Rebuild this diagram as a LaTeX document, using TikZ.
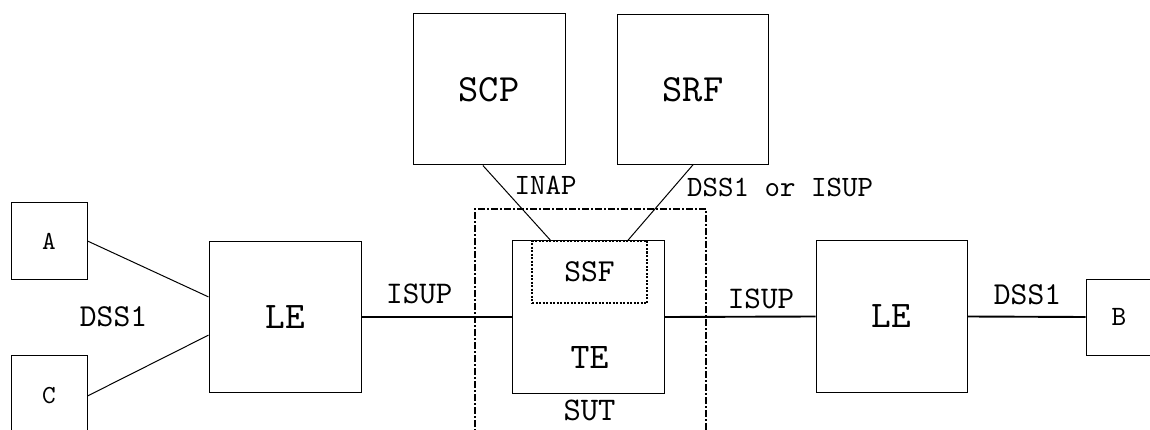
\documentclass[tikz,border=0pt]{standalone}
\usepackage{graphicx}
\usetikzlibrary{calc}
\newcommand\sctxt[2]{\scalebox{#1}{#2}}
\begin{document}
\begin{tikzpicture}[x=1pt,y=-1pt,
  box/.style={draw, line width=1pt, rectangle, inner sep=0pt},
  link/.style={line width=1.9pt},
  diag/.style={line width=1pt},
  tt/.style={font=\ttfamily\fontsize{10}{12}\selectfont},
  lbl/.style={inner sep=0pt}]
\useasboundingbox (0,0) rectangle (1150,430);
\clip (0,0) rectangle (1150,430);

% end terminals
\node[box, tt, minimum width=76, minimum height=76] (A) at (49,241) {\sctxt{2.6}{A}};
\node[box, tt, minimum width=76, minimum height=82] (C) at (49,396) {\sctxt{2.6}{C}};
\node[box, tt, minimum width=66, minimum height=76] (B) at (1119,317) {\sctxt{2.8}{B}};

% exchanges
\node[box, tt, minimum width=152, minimum height=150] (LE1) at (285,317) {\sctxt{3.75}{LE}};
\node[box, tt, minimum width=151, minimum height=151] (LE2) at (891.5,316.5) {\sctxt{3.75}{LE}};
\node[box, minimum width=152, minimum height=152] (TE) at (588,317) {};
\node[lbl, tt] (TElbl) at (589.5,357.5) {\sctxt{3.6}{TE}};
\node[box, tt, minimum width=152, minimum height=151] (SCP) at (489,89.5) {\sctxt{3.85}{SCP}};
\node[box, tt, minimum width=151, minimum height=150] (SRF) at (693,89.3) {\sctxt{3.85}{SRF}};

% SSF (dotted) inside TE
\node[draw, line width=1.2pt, dash pattern=on 2pt off 1.5pt, inner sep=0pt,
      minimum width=115, minimum height=62, tt] (SSF) at (589.5,272) {\sctxt{3.2}{SSF}};

% SUT boundary (dash-dot, open at bottom)
\coordinate (sutBL) at (475,440);
\coordinate (sutTL) at (475,209);
\coordinate (sutTR) at (706,209);
\coordinate (sutBR) at (706,440);
\draw[line width=1.5pt, dash pattern=on 7pt off 2pt on 2pt off 2pt]
  (sutBL) -- (sutTL) -- (sutTR) -- (sutBR);

% connectors
\draw[diag] (A.east) -- ($(LE1.north west)!0.367!(LE1.south west)$);
\draw[diag] (C.east) -- ($(LE1.north west)!0.62!(LE1.south west)$);
\draw[link] (LE1.east) -- (TE.west);
\draw[link] (TE.east) -- (LE2.west);
\draw[link] (LE2.east) -- (B.west);
\draw[diag] ($(SCP.south west)!0.46!(SCP.south east)$) -- ($(SSF.north west)!0.165!(SSF.north east)$);
\draw[diag] (SRF.south) -- ($(SSF.north west)!0.83!(SSF.north east)$);

% labels
\node[lbl, tt] (lDSS1a) at (113.5,317) {\sctxt{3.2}{DSS1}};
\node[lbl, tt] (lISUPa) at (419.3,293.7) {\sctxt{3.15}{ISUP}};
\node[lbl, tt] (lINAP) at (545.7,185) {\sctxt{2.95}{INAP}};
\node[lbl, tt, anchor=west] (lDSSorISUP) at (687,187.8) {\sctxt{2.95}{DSS1 or ISUP}};
\node[lbl, tt] (lSUT) at (589.5,410.8) {\sctxt{3.3}{SUT}};
\node[lbl, tt] (lISUPb) at (761,298.8) {\sctxt{3.15}{ISUP}};
\node[lbl, tt] (lDSS1b) at (1027.5,295) {\sctxt{3.2}{DSS1}};
\end{tikzpicture}
\end{document}
